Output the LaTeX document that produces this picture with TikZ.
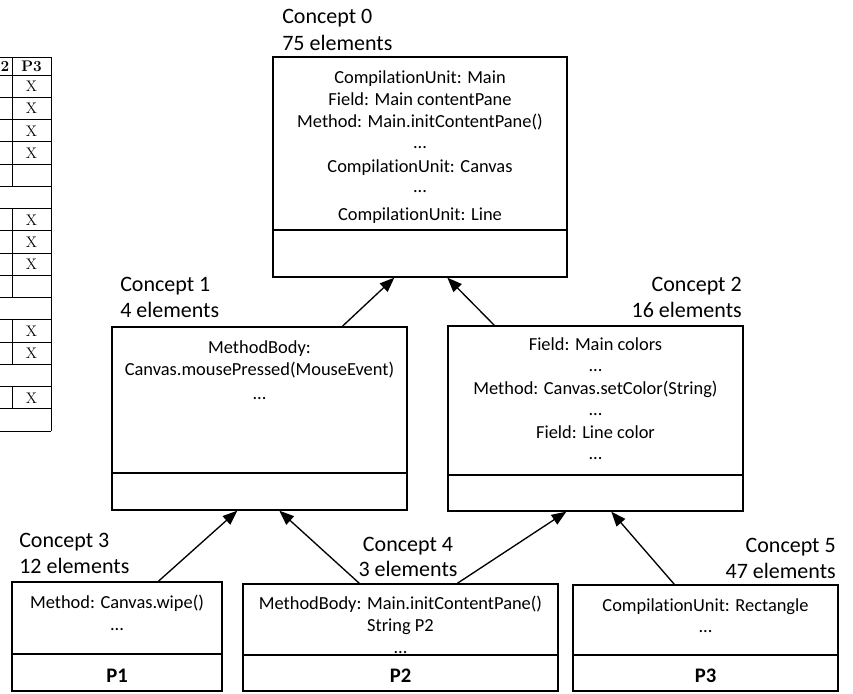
\documentclass[tikz,border=0pt]{standalone}
\usepackage{fontspec}
\newfontfamily\calfont[Ligatures={NoCommon,NoContextual}]{Carlito}
\usetikzlibrary{arrows.meta,fit,calc}
\tikzset{
  cbox/.style={draw, line width=1pt, inner sep=0pt},
  divline/.style={line width=1.3pt},
  arr/.style={-{Triangle[length=11pt,width=8.5pt]}, line width=1pt},
  lbl/.style={font=\calfont\fontsize{16.5pt}{19.5pt}\selectfont, inner sep=0pt},
  txt/.style={font=\calfont\fontsize{13.8pt}{16pt}\selectfont, inner sep=0pt, anchor=base},
  plbl/.style={font=\calfont\bfseries\fontsize{15.5pt}{18pt}\selectfont, inner sep=0pt, anchor=base},
  tabline/.style={line width=0.5pt},
  tabtxt/.style={font=\fontsize{11.5pt}{13pt}\selectfont, inner sep=0pt, anchor=base}
}
\begin{document}
\begin{tikzpicture}[x=0.75pt,y=-0.75pt]
\useasboundingbox (0,0) rectangle (853,693);

% ---------- partial table on the left ----------
\foreach \yy in {57,75,97.25,119.5,141.75,164,186.25,208.5,230.75,253,275.25,297.5,319.75,342,364.25,386.5,408.75,431}
  \draw[tabline] (0,\yy) -- (51,\yy);
\draw[tabline] (51,57) -- (51,431);
\draw[tabline] (12,57) -- (12,186.25);
\draw[tabline] (12,208.5) -- (12,297.5);
\draw[tabline] (12,319.75) -- (12,364.25);
\draw[tabline] (12,386.5) -- (12,408.75);
\node[tabtxt, anchor=base east] (hp2) at (9.5,71) {\textbf{P2}};
\node[tabtxt] (hp3) at (31.5,71) {\textbf{P3}};
\foreach \r [count=\i] in {1,2,3,4,7,8,9,12,13,15}
  \node[tabtxt] (x\i) at (31.5,{75+(\r-0.5)*22.25+5.5}) {X};

% ---------- concept boxes ----------
\node[cbox, fit={(273,57) (567,277)}] (c0) {};
\node[cbox, fit={(112,327) (407,510)}] (c1) {};
\node[cbox, fit={(448,326) (743,511)}] (c2) {};
\node[cbox, fit={(12,582) (222,691)}] (c3) {};
\node[cbox, fit={(243,584) (558,691)}] (c4) {};
\node[cbox, fit={(573,585) (838,691)}] (c5) {};

% dividers
\draw[divline] (c0.west |- 0,230) -- (c0.east |- 0,230);
\draw[divline] (c1.west |- 0,473) -- (c1.east |- 0,473);
\draw[divline] (c2.west |- 0,475) -- (c2.east |- 0,475);
\draw[divline] (c3.west |- 0,654) -- (c3.east |- 0,654);
\draw[divline] (c4.west |- 0,655) -- (c4.east |- 0,655);
\draw[divline] (c5.west |- 0,655) -- (c5.east |- 0,655);

% labels
\node[lbl, anchor=base west] (l0a) at (282,23) {Concept 0};
\node[lbl, anchor=base west] (l0b) at (282,50) {75 elements};
\node[lbl, anchor=base west] (l1a) at (120,291) {Concept 1};
\node[lbl, anchor=base west] (l1b) at (120,317) {4 elements};
\node[lbl, anchor=base east] (l2a) at (742,291) {Concept 2};
\node[lbl, anchor=base east] (l2b) at (742,317) {16 elements};
\node[lbl, anchor=base west] (l3a) at (19,547) {Concept 3};
\node[lbl, anchor=base west] (l3b) at (19,573) {12 elements};
\node[lbl, anchor=base] (l4a) at (408,551) {Concept 4};
\node[lbl, anchor=base] (l4b) at (408,576) {3 elements};
\node[lbl, anchor=base east] (l5a) at (836,552) {Concept 5};
\node[lbl, anchor=base east] (l5b) at (836,578) {47 elements};

% box contents
\foreach \yy/\tt [count=\i] in {83/{CompilationUnit: Main},105/{Field: Main contentPane},127/{Method: Main.initContentPane()},148/{...},172/{CompilationUnit: Canvas},192/{...},220/{CompilationUnit: Line}}
  \node[txt] (t0-\i) at (420,\yy) {\tt};
\foreach \yy/\tt [count=\i] in {353/{MethodBody:},375/{Canvas.mousePressed(MouseEvent)},399/{...}}
  \node[txt] (t1-\i) at (259.5,\yy) {\tt};
\foreach \yy/\tt [count=\i] in {350/{Field: Main colors},371/{...},394/{Method: Canvas.setColor(String)},415/{...},438/{Field: Line color},459/{...}}
  \node[txt] (t2-\i) at (595.5,\yy) {\tt};
\foreach \yy/\tt [count=\i] in {608/{Method: Canvas.wipe()},630/{...}}
  \node[txt] (t3-\i) at (117,\yy) {\tt};
\foreach \yy/\tt [count=\i] in {609/{MethodBody: Main.initContentPane()},631/{String P2},653/{...}}
  \node[txt] (t4-\i) at (400.5,\yy) {\tt};
\foreach \yy/\tt [count=\i] in {611/{CompilationUnit: Rectangle},632/{...}}
  \node[txt] (t5-\i) at (705.5,\yy) {\tt};

\node[plbl] (p1) at (117,682) {P1};
\node[plbl] (p2) at (400.5,682.5) {P2};
\node[plbl] (p3) at (705.5,682.5) {P3};

% arrows
\draw[arr] ($(c1.north west)+(231,0)$) -- ($(c0.south west)+(122,0)$);
\draw[arr] ($(c2.north west)+(47,0)$) -- ($(c0.south west)+(175,0)$);
\draw[arr] ($(c3.north west)+(147,0)$) -- ($(c1.south west)+(126,0)$);
\draw[arr] ($(c4.north west)+(117,0)$) -- ($(c1.south west)+(168,0)$);
\draw[arr] ($(c4.north west)+(215,0)$) -- ($(c2.south west)+(119,0)$);
\draw[arr] ($(c5.north west)+(102,0)$) -- ($(c2.south west)+(164,0)$);
\end{tikzpicture}
\end{document}
